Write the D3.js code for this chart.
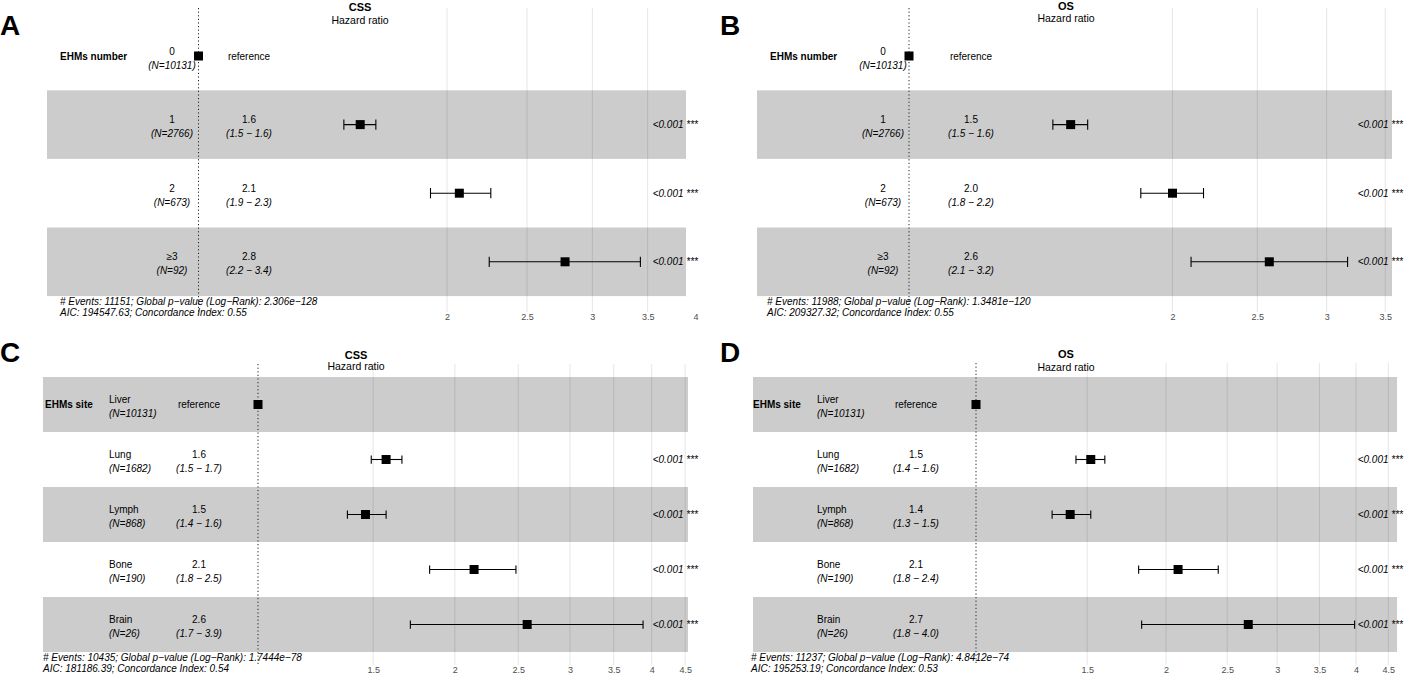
<!DOCTYPE html>
<html>
<head>
<meta charset="utf-8">
<script src="https://cdn.jsdelivr.net/npm/d3@7"></script>
<style>
  body { margin: 0; background: #fff; }
  svg { display: block; font-family: "Liberation Sans", Arial, sans-serif; }
</style>
</head>
<body>
<svg id="chart" width="1405" height="675"></svg>
<script>
// Row labels
const numberLevels = ["0", "1", "2", "\u22653"];
const numberN = ["(N=10131)", "(N=2766)", "(N=673)", "(N=92)"];
const siteLevels = ["Liver", "Lung", "Lymph", "Bone", "Brain"];
const siteN = ["(N=10131)", "(N=1682)", "(N=868)", "(N=190)", "(N=26)"];

// A: CSS by number of EHMs
const cssNumberHR = [1, 1.57, 2.07, 2.78];
const cssNumberLow = [null, 1.50, 1.91, 2.25];
const cssNumberHigh = [null, 1.64, 2.26, 3.43];
const cssNumberEst = ["reference", "1.6", "2.1", "2.8"];
const cssNumberCI = ["", "(1.5 \u2212 1.6)", "(1.9 \u2212 2.3)", "(2.2 \u2212 3.4)"];

// B: OS by number of EHMs
const osNumberHR = [1, 1.53, 2.00, 2.58];
const osNumberLow = [null, 1.46, 1.84, 2.10];
const osNumberHigh = [null, 1.60, 2.17, 3.17];
const osNumberEst = ["reference", "1.5", "2.0", "2.6"];
const osNumberCI = ["", "(1.5 \u2212 1.6)", "(1.8 \u2212 2.2)", "(2.1 \u2212 3.2)"];

// C: CSS by EHMs site
const cssSiteHR = [1, 1.57, 1.46, 2.14, 2.58];
const cssSiteLow = [null, 1.49, 1.37, 1.83, 1.71];
const cssSiteHigh = [null, 1.66, 1.57, 2.48, 3.88];
const cssSiteEst = ["reference", "1.6", "1.5", "2.1", "2.6"];
const cssSiteCI = ["", "(1.5 \u2212 1.7)", "(1.4 \u2212 1.6)", "(1.8 \u2212 2.5)", "(1.7 \u2212 3.9)"];

// D: OS by EHMs site
const osSiteHR = [1, 1.52, 1.41, 2.09, 2.70];
const osSiteLow = [null, 1.44, 1.32, 1.81, 1.83];
const osSiteHigh = [null, 1.60, 1.52, 2.42, 3.98];
const osSiteEst = ["reference", "1.5", "1.4", "2.1", "2.7"];
const osSiteCI = ["", "(1.4 \u2212 1.6)", "(1.3 \u2212 1.5)", "(1.8 \u2212 2.4)", "(1.8 \u2212 4.0)"];

const numberP = ["", "<0.001 ***", "<0.001 ***", "<0.001 ***"];
const siteP = ["", "<0.001 ***", "<0.001 ***", "<0.001 ***", "<0.001 ***"];

// Axis ticks
const numberCssTicks = [2, 2.5, 3, 3.5, 4];
const numberOsTicks = [2, 2.5, 3, 3.5];
const siteTicks = [1.5, 2, 2.5, 3, 3.5, 4, 4.5];

// Model footnotes
const footA = ["# Events: 11151; Global p\u2212value (Log\u2212Rank): 2.306e\u2212128", "AIC: 194547.63; Concordance Index: 0.55"];
const footB = ["# Events: 11988; Global p\u2212value (Log\u2212Rank): 1.3481e\u2212120", "AIC: 209327.32; Concordance Index: 0.55"];
const footC = ["# Events: 10435; Global p\u2212value (Log\u2212Rank): 1.7444e\u221278", "AIC: 181186.39; Concordance Index: 0.54"];
const footD = ["# Events: 11237; Global p\u2212value (Log\u2212Rank): 4.8412e\u221274", "AIC: 195253.19; Concordance Index: 0.53"];

// Panel layout
const panels = [
    { letter: "A", title: "CSS", variable: "EHMs number", levels: numberLevels, n: numberN,
      hr: cssNumberHR, lo: cssNumberLow, hi: cssNumberHigh, est: cssNumberEst, ci: cssNumberCI, p: numberP,
      ticks: numberCssTicks, foot: footA,
      x1: 198.5, x4: 695.5, left: 47, right: 686, top: 8, bottom: 312,
      row0: 56, rowStep: 68.6, gray: 1,
      titleX: 360, titleY: 11, subY: 24, letterX: 0, letterY: 35,
      varX: 60, levelX: 172, levelAnchor: "middle", estX: 249, pX: 698,
      footX: 60, footY: 304.5, tickY: 320.5 },
    { letter: "B", title: "OS", variable: "EHMs number", levels: numberLevels, n: numberN,
      hr: osNumberHR, lo: osNumberLow, hi: osNumberHigh, est: osNumberEst, ci: osNumberCI, p: numberP,
      ticks: numberOsTicks, foot: footB,
      x1: 909, x4: 1436, left: 757, right: 1392, top: 8, bottom: 312,
      row0: 56, rowStep: 68.6, gray: 1,
      titleX: 1066, titleY: 10, subY: 22, letterX: 720, letterY: 35,
      varX: 770, levelX: 883, levelAnchor: "middle", estX: 971, pX: 1403,
      footX: 767, footY: 304.5, tickY: 320.5 },
    { letter: "C", title: "CSS", variable: "EHMs site", levels: siteLevels, n: siteN,
      hr: cssSiteHR, lo: cssSiteLow, hi: cssSiteHigh, est: cssSiteEst, ci: cssSiteCI, p: siteP,
      ticks: siteTicks, foot: footC,
      x1: 258, x4: 651.7, left: 43, right: 688, top: 364, bottom: 665,
      row0: 404.5, rowStep: 55, gray: 0,
      titleX: 356, titleY: 359, subY: 370, letterX: 0, letterY: 362,
      varX: 45, levelX: 109, levelAnchor: "start", estX: 199, pX: 698,
      footX: 43, footY: 660.5, tickY: 673 },
    { letter: "D", title: "OS", variable: "EHMs site", levels: siteLevels, n: siteN,
      hr: osSiteHR, lo: osSiteLow, hi: osSiteHigh, est: osSiteEst, ci: osSiteCI, p: siteP,
      ticks: siteTicks, foot: footD,
      x1: 976, x4: 1356, left: 753, right: 1397, top: 363, bottom: 665,
      row0: 404.5, rowStep: 55, gray: 0,
      titleX: 1066, titleY: 358, subY: 371, letterX: 720, letterY: 362,
      varX: 753, levelX: 817, levelAnchor: "start", estX: 916, pX: 1403,
      footX: 751, footY: 660.5, tickY: 673 }
];

const svg = d3.select("#chart");

panels.forEach(p => {
    const g = svg.append("g").attr("class", "panel-" + p.letter);
    const x = d3.scaleLog().domain([1, 4]).range([p.x1, p.x4]);
    const rows = d3.range(p.levels.length);
    const y = i => p.row0 + i * p.rowStep;

    // vertical grid lines
    g.selectAll("line.grid")
        .data(p.ticks.filter(t => x(t) <= p.right + 1))
        .enter()
        .append("line")
        .attr("class", "grid")
        .attr("x1", d => x(d))
        .attr("x2", d => x(d))
        .attr("y1", p.top)
        .attr("y2", p.bottom)
        .attr("stroke", "#e6e6e6")
        .attr("stroke-width", 1);

    // alternating row bands
    g.selectAll("rect.band")
        .data(rows.filter(i => i % 2 === p.gray))
        .enter()
        .append("rect")
        .attr("class", "band")
        .attr("x", p.left)
        .attr("width", p.right - p.left)
        .attr("y", i => y(i) - p.rowStep / 2)
        .attr("height", p.rowStep)
        .attr("fill", "#000")
        .attr("fill-opacity", 0.2);

    // reference line at HR = 1
    g.append("line")
        .attr("x1", x(1))
        .attr("x2", x(1))
        .attr("y1", p.top)
        .attr("y2", p.bottom)
        .attr("stroke", "#222")
        .attr("stroke-width", 1)
        .attr("stroke-dasharray", "1.2,2.4");

    // title
    g.append("text")
        .attr("x", p.titleX)
        .attr("y", p.titleY)
        .attr("text-anchor", "middle")
        .attr("font-size", "11px")
        .attr("font-weight", "700")
        .text(p.title);

    g.append("text")
        .attr("x", p.titleX)
        .attr("y", p.subY)
        .attr("text-anchor", "middle")
        .attr("font-size", "10.5px")
        .text("Hazard ratio");

    // panel letter
    g.append("text")
        .attr("x", p.letterX)
        .attr("y", p.letterY)
        .attr("font-size", "28px")
        .attr("font-weight", "700")
        .text(p.letter);

    // variable name
    g.append("text")
        .attr("x", p.varX)
        .attr("y", y(0))
        .attr("dy", "0.35em")
        .attr("font-size", "10px")
        .attr("font-weight", "700")
        .text(p.variable);

    // level + N
    g.selectAll("text.level")
        .data(rows)
        .enter()
        .append("text")
        .attr("class", "level")
        .attr("x", p.levelX)
        .attr("y", i => y(i) - 5)
        .attr("dy", "0.35em")
        .attr("text-anchor", p.levelAnchor)
        .attr("font-size", "10px")
        .text(i => p.levels[i]);

    g.selectAll("text.count")
        .data(rows)
        .enter()
        .append("text")
        .attr("class", "count")
        .attr("x", p.levelX)
        .attr("y", i => y(i) + 9)
        .attr("dy", "0.35em")
        .attr("text-anchor", p.levelAnchor)
        .attr("font-size", "10px")
        .attr("font-style", "italic")
        .text(i => p.n[i]);

    // estimate + CI text
    g.selectAll("text.est")
        .data(rows)
        .enter()
        .append("text")
        .attr("class", "est")
        .attr("x", p.estX)
        .attr("y", i => p.est[i] === "reference" ? y(i) : y(i) - 5)
        .attr("dy", "0.35em")
        .attr("text-anchor", "middle")
        .attr("font-size", "10px")
        .text(i => p.est[i]);

    g.selectAll("text.ci")
        .data(rows.filter(i => p.ci[i]))
        .enter()
        .append("text")
        .attr("class", "ci")
        .attr("x", p.estX)
        .attr("y", i => y(i) + 9)
        .attr("dy", "0.35em")
        .attr("text-anchor", "middle")
        .attr("font-size", "10px")
        .attr("font-style", "italic")
        .text(i => p.ci[i]);

    // p-values
    g.selectAll("text.pval")
        .data(rows.filter(i => p.p[i]))
        .enter()
        .append("text")
        .attr("class", "pval")
        .attr("x", p.pX)
        .attr("y", i => y(i))
        .attr("dy", "0.35em")
        .attr("text-anchor", "end")
        .attr("font-size", "10px")
        .attr("font-style", "italic")
        .text(i => p.p[i]);

    // error bars
    const cap = p.rowStep * 0.075;
    const withCI = rows.filter(i => p.lo[i] != null);

    g.selectAll("line.ci-bar")
        .data(withCI)
        .enter()
        .append("line")
        .attr("x1", i => x(p.lo[i]))
        .attr("x2", i => x(p.hi[i]))
        .attr("y1", i => y(i))
        .attr("y2", i => y(i))
        .attr("stroke", "#000")
        .attr("stroke-width", 1.1);

    ["lo", "hi"].forEach(k => {
        g.selectAll("line.cap-" + k)
            .data(withCI)
            .enter()
            .append("line")
            .attr("x1", i => x(p[k][i]))
            .attr("x2", i => x(p[k][i]))
            .attr("y1", i => y(i) - cap)
            .attr("y2", i => y(i) + cap)
            .attr("stroke", "#000")
            .attr("stroke-width", 1.1);
    });

    // point estimates
    const sq = 9;
    g.selectAll("rect.hr")
        .data(rows)
        .enter()
        .append("rect")
        .attr("class", "hr")
        .attr("x", i => x(p.hr[i]) - sq / 2)
        .attr("y", i => y(i) - sq / 2)
        .attr("width", sq)
        .attr("height", sq)
        .attr("fill", "#000");

    // footnote
    g.selectAll("text.foot")
        .data(p.foot)
        .enter()
        .append("text")
        .attr("class", "foot")
        .attr("x", p.footX)
        .attr("y", (d, i) => p.footY + i * 11)
        .attr("font-size", "10px")
        .attr("font-style", "italic")
        .text(d => d);

    // x axis labels
    const axis = g.append("g")
        .attr("transform", `translate(0,${p.tickY - 6.4})`)
        .call(d3.axisBottom(x)
            .tickValues(p.ticks)
            .tickSize(0)
            .tickPadding(0)
            .tickFormat(d3.format("")));
    axis.select(".domain").remove();
    axis.attr("font-family", null).attr("font-size", null);
    axis.selectAll("text")
        .attr("font-size", "9px")
        .attr("fill", "#4d4d4d");
});
</script>
</body>
</html>
